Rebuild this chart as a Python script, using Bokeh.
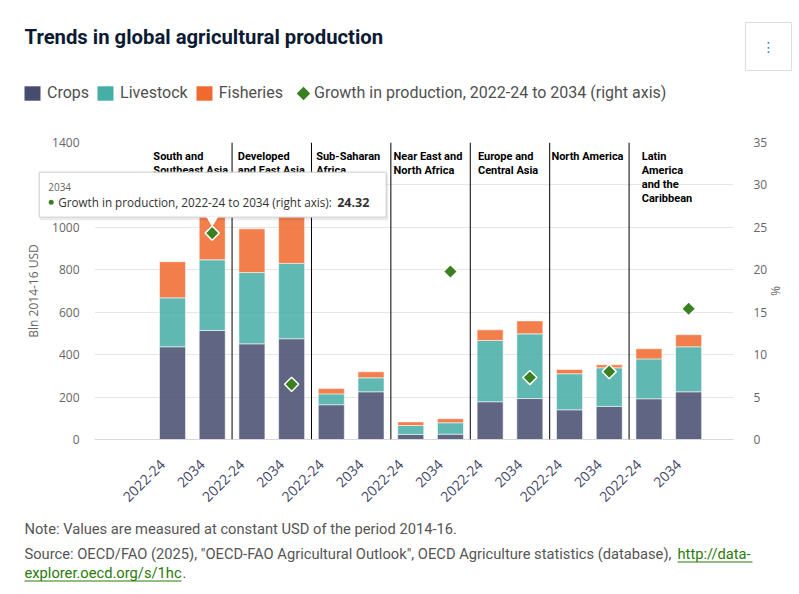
import math

from bokeh.core.properties import value
from bokeh.embed import file_html
from bokeh.models import (Column, ColumnDataSource, FixedTicker, GridBox, Label, Legend,
                          LegendItem, LinearAxis, Range1d, Span)
from bokeh.plotting import figure
from bokeh.resources import INLINE

nan = float("nan")

# Regions, each shown with two periods
regions = ["South and\nSoutheast Asia", "Developed\nand East Asia", "Sub-Saharan\nAfrica",
           "Near East and\nNorth Africa", "Europe and\nCentral Asia", "North America",
           "Latin\nAmerica\nand the\nCaribbean"]
periods = ["2022-24", "2034"]

# Value of production, bln USD at constant 2014-16 prices (one entry per bar)
crops = [437, 514, 451, 475, 164, 225, 24, 25, 178, 193, 140, 156, 192, 225]
livestock = [231, 333, 336, 355, 51, 66, 42, 54, 289, 305, 170, 182, 188, 212]
fisheries = [170, 203, 206, 230, 25, 28, 17, 19, 50, 61, 20, 14, 48, 57]

# Growth in production 2022-24 to 2034, % (right axis), shown on the 2034 bars
growth = [nan, 24.32, nan, 6.5, nan, 28.5, nan, 19.8, nan, 7.3, nan, 8.0, nan, 15.4]

left_ticks = [0, 200, 400, 600, 800, 1000, 1200, 1400]
right_ticks = [0, 5, 10, 15, 20, 25, 30, 35]

# bar whose value is shown in the hover card
hover_bar = 1

CROPS = "#454c6e"
LIVESTOCK = "#45aea5"
FISHERIES = "#f0692f"
GREEN = "#3a7f20"
GREY_TEXT = "#666666"
NOTE_COLOR = "#555555"
LINK_COLOR = "#2b7a0b"

W, H = 799, 594
FRAME_LEFT, FRAME_RIGHT, FRAME_TOP, FRAME_BOTTOM = 94, 733, 142, 439
X_START, X_END = -1.965, len(crops) - 1 + 1.13
Y_MAX, PCT_MAX = 1400, 35

# ---------------------------------------------------------------- chart
n = len(crops)
xs = list(range(n))
bar_period = periods * len(regions)
src = ColumnDataSource(dict(x=xs, crops=crops, livestock=livestock,
                            fisheries=fisheries, growth=growth))

p = figure(width=W, height=H, output_backend="svg", toolbar_location=None,
           x_range=Range1d(X_START, X_END), y_range=Range1d(0, Y_MAX),
           min_border_left=FRAME_LEFT, min_border_right=W - FRAME_RIGHT,
           min_border_top=FRAME_TOP, min_border_bottom=H - FRAME_BOTTOM)
p.extra_y_ranges = {"pct": Range1d(0, PCT_MAX)}
p.outline_line_color = None
p.background_fill_color = "white"
p.border_fill_color = "white"
p.xgrid.visible = False
p.ygrid.ticker = FixedTicker(ticks=left_ticks)
p.ygrid.grid_line_color = "#e6e6e6"

ya = p.yaxis[0]
ya.ticker = FixedTicker(ticks=left_ticks)
ya.axis_line_color = None
ya.major_tick_line_color = None
ya.minor_tick_line_color = None
ya.major_label_standoff = 9
ya.major_label_text_font = "Open Sans"
ya.major_label_text_font_size = "12px"
ya.major_label_text_color = GREY_TEXT
ya.axis_label = "Bln 2014-16 USD"
ya.axis_label_standoff = 7
ya.axis_label_text_font = "Open Sans"
ya.axis_label_text_font_size = "12px"
ya.axis_label_text_font_style = "normal"
ya.axis_label_text_color = GREY_TEXT

ra = LinearAxis(y_range_name="pct", ticker=FixedTicker(ticks=right_ticks))
ra.axis_line_color = None
ra.major_tick_line_color = None
ra.minor_tick_line_color = None
ra.major_label_standoff = 14
ra.major_label_text_font = "Open Sans"
ra.major_label_text_font_size = "12px"
ra.major_label_text_color = GREY_TEXT
ra.axis_label = "%"
ra.axis_label_standoff = -3
ra.axis_label_text_font = "Open Sans"
ra.axis_label_text_font_size = "12px"
ra.axis_label_text_font_style = "normal"
ra.axis_label_text_color = GREY_TEXT
p.add_layout(ra, "right")

# period under each bar; the trailing no-break spaces pull the slanted text off the tick
xa = p.xaxis[0]
xa.ticker = FixedTicker(ticks=xs)
xa.major_label_overrides = {i: bar_period[i] + "\u00a0" * 4 for i in xs}
xa.major_label_orientation = math.pi / 4
xa.major_tick_line_color = None
xa.minor_tick_line_color = None
xa.axis_line_color = "#d8d8d8"
xa.major_label_standoff = 6
xa.major_label_text_font = "Open Sans"
xa.major_label_text_font_size = "14px"
xa.major_label_text_color = "#3f4668"

p.vbar_stack(["crops", "livestock", "fisheries"], x="x", width=0.655, source=src,
             fill_color=[CROPS, LIVESTOCK, FISHERIES], fill_alpha=0.86,
             line_color="white", line_alpha=0.55, line_width=1)

p.scatter("x", "growth", source=src, y_range_name="pct", marker="square",
          angle=math.pi / 4, size=10, fill_color=GREEN, line_color="white", line_width=1.5)

for k in range(len(regions) - 1):
    p.add_layout(Span(location=2 * k + 1.5, dimension="height",
                      line_color="black", line_width=1))

region_dx = [-39, -34, -35, -37, -32, -38, -27]
p.text(x=[2 * k + 0.5 for k in range(len(regions))], y=[Y_MAX] * len(regions),
       text=regions, x_offset=region_dx, y_offset=7,
       text_align="left", text_baseline="top", text_font=value("Roboto"),
       text_font_style="bold", text_font_size="11px", text_color="black",
       text_line_height=1.08)

# ---------------------------------------------------------------- page layer
# A transparent figure over the whole page whose data units are page pixels;
# it carries the title, legend, hover card and notes, which lie outside the chart frame.
ov = figure(width=W, height=H, x_range=Range1d(0, W), y_range=Range1d(H, 0),
            output_backend="svg", toolbar_location=None,
            x_axis_location=None, y_axis_location=None, min_border=0,
            min_border_left=0, min_border_right=0, min_border_top=0, min_border_bottom=0)
ov.grid.visible = False
ov.outline_line_color = None
ov.background_fill_alpha = 0
ov.border_fill_alpha = 0

ov.add_layout(Label(text="Trends in global agricultural production", x=24, y=36,
                    text_baseline="middle", text_font="Roboto", text_font_size="20.3px",
                    text_font_style="bold", text_color="#0c1a33"))

# menu button
ov.quad(left=[745], right=[791], top=[22], bottom=[70], fill_color="white",
        line_color="#dddddd", line_width=1)
ov.add_layout(Label(text="\u22ee", x=768, y=46, text_align="center", text_baseline="middle",
                    text_font="DejaVu Sans", text_font_size="14px", text_color="#2a7ae2"))

# legend (proxy renderers holding a single empty row)
r_c = ov.vbar(x=[nan], top=[nan], width=1, fill_color=CROPS, line_color=None)
r_l = ov.vbar(x=[nan], top=[nan], width=1, fill_color=LIVESTOCK, line_color=None)
r_f = ov.vbar(x=[nan], top=[nan], width=1, fill_color=FISHERIES, line_color=None)
r_g = ov.scatter(x=[nan], y=[nan], marker="square", angle=math.pi / 4,
                 fill_alpha=0, line_color=None)
ov.add_layout(Legend(items=[LegendItem(label="Crops", renderers=[r_c]),
                            LegendItem(label="Livestock", renderers=[r_l]),
                            LegendItem(label="Fisheries", renderers=[r_f]),
                            LegendItem(label="Growth in production, 2022-24 to 2034 (right axis)",
                                       renderers=[r_g])],
                     location=(22, H - 102), orientation="horizontal", padding=0, margin=0,
                     border_line_color=None, background_fill_alpha=0,
                     glyph_width=20, glyph_height=18, label_height=18, label_standoff=5,
                     spacing=6, label_text_font="Roboto", label_text_font_size="16px",
                     label_text_color="#505050"))
# the diamond key, drawn at marker size next to its legend entry
ov.scatter(x=[303], y=[93], marker="square", angle=math.pi / 4, size=9.5,
           fill_color=GREEN, line_color=None)

# hover card, anchored on the highlighted growth point
ax = FRAME_LEFT + (hover_bar - X_START) / (X_END - X_START) * (FRAME_RIGHT - FRAME_LEFT)
ay = FRAME_BOTTOM - growth[hover_bar] / PCT_MAX * (FRAME_BOTTOM - FRAME_TOP)
card_l, card_r, card_t, card_b = ax - 173, ax + 174, ay - 61, ay - 16
ov.quad(left=[card_l + 1], right=[card_r + 2], top=[card_t + 2], bottom=[card_b + 3],
        fill_color="black", fill_alpha=0.08, line_color=None)
ov.quad(left=[card_l], right=[card_r], top=[card_t], bottom=[card_b],
        fill_color="white", line_color="#cccccc", line_width=1)
ov.scatter(x=[ax], y=[card_b + 3], marker="inverted_triangle", size=12,
           fill_color="white", line_color=None)
ov.add_layout(Label(text="2034", x=card_l + 9, y=card_t + 15, text_baseline="middle",
                    text_font="Open Sans", text_font_size="10px", text_color=GREY_TEXT))
ov.scatter(x=[card_l + 12], y=[card_t + 30], marker="circle", size=5,
           fill_color=GREEN, line_color=None)
ov.add_layout(Label(text="Growth in production, 2022-24 to 2034 (right axis):",
                    x=card_l + 19, y=card_t + 30, text_baseline="middle",
                    text_font="Open Sans", text_font_size="11.7px", text_color="#333333"))
ov.add_layout(Label(text=f"{growth[hover_bar]:.2f}", x=card_l + 298, y=card_t + 30,
                    text_baseline="middle", text_font="Open Sans", text_font_size="12.5px",
                    text_font_style="bold", text_color="#333333"))

# notes
note_font = dict(text_font="Roboto", text_font_size="14.7px", text_baseline="middle")
ov.add_layout(Label(text="Note: Values are measured at constant USD of the period 2014-16.",
                    x=24, y=528, text_color=NOTE_COLOR, **note_font))
ov.add_layout(Label(text='Source: OECD/FAO (2025), "OECD-FAO Agricultural Outlook", '
                         'OECD Agriculture statistics (database),',
                    x=24, y=553, text_color=NOTE_COLOR, **note_font))
ov.add_layout(Label(text="http://data-", x=677, y=553, text_color=LINK_COLOR, **note_font))
ov.add_layout(Label(text="explorer.oecd.org/s/1hc", x=24, y=572, text_color=LINK_COLOR,
                    **note_font))
ov.add_layout(Label(text=".", x=182, y=572, text_color=NOTE_COLOR, **note_font))
ov.segment(x0=[677, 24], y0=[561.5, 580.5], x1=[752, 181], y1=[561.5, 580.5],
           line_color=LINK_COLOR, line_width=1)

# both layers share one grid cell; each sits in its own box so their frames stay independent
page = GridBox(children=[(Column(children=[p]), 0, 0), (Column(children=[ov]), 0, 0)])
open("out.html", "w").write(file_html(page, INLINE))
